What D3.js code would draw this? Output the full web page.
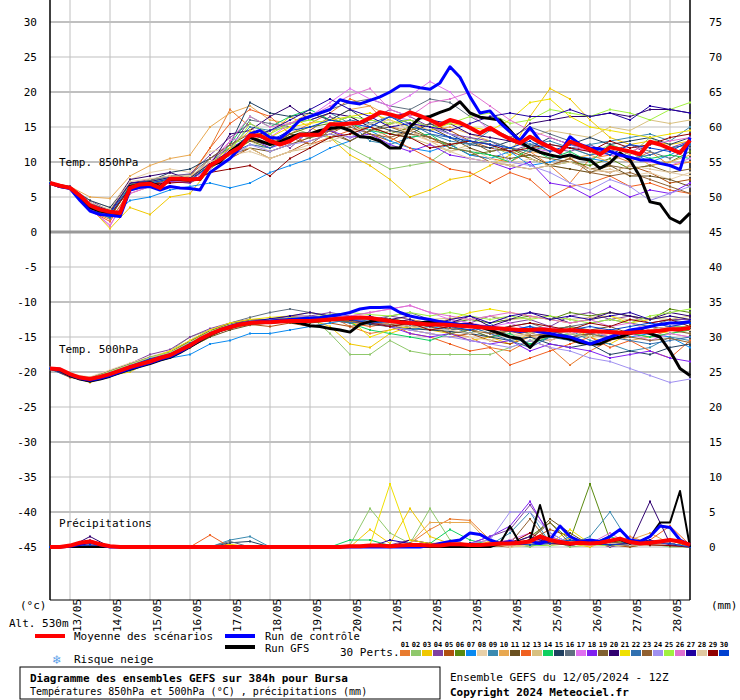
<!DOCTYPE html>
<html><head><meta charset="utf-8">
<script src="https://cdn.jsdelivr.net/npm/d3@7/dist/d3.min.js"></script>
<style>
  body { margin:0; background:#fff; }
  svg text { font-family:"DejaVu Sans Mono", monospace; font-size:11px; fill:#000; }
</style>
</head><body>
<svg width="740" height="700"></svg>
<script>
// dates shown on the x axis (00Z of each day)
var days = ["13/05","14/05","15/05","16/05","17/05","18/05","19/05","20/05","21/05","22/05","23/05","24/05","25/05","26/05","27/05","28/05"];
var leftTicks = [30,25,20,15,10,5,0,-5,-10,-15,-20,-25,-30,-35,-40,-45];

// 6-hourly series (65 steps from 12/05 12Z)
var mean850 = [7.0,6.6,6.3,5.2,3.8,3.2,2.9,2.7,6.3,6.8,6.9,6.3,7.6,7.6,7.5,7.6,9.5,10.3,11.3,12.1,13.8,13.8,13.0,12.5,13.0,13.9,13.9,13.9,15.4,15.4,15.5,15.6,16.3,17.1,16.8,16.4,17.1,16.6,16.0,15.3,16.0,15.6,14.9,14.1,14.9,14.0,13.3,12.7,13.6,12.8,12.1,11.4,12.9,12.4,11.8,11.1,12.1,11.8,11.5,11.1,12.9,12.5,11.9,11.3,13.1];
var ctrl850 = [7.0,6.5,6.2,4.5,3.0,2.5,2.4,2.2,6.0,6.4,6.5,6.0,6.5,6.3,6.2,6.0,8.5,9.5,10.5,12.0,14.0,14.5,13.5,13.4,14.5,16.0,16.5,17.0,17.5,18.9,18.5,18.3,18.8,19.3,20.0,20.9,20.9,20.6,20.4,21.3,23.6,22.1,19.3,17.0,17.3,15.6,14.3,13.1,14.9,13.0,12.1,11.3,13.6,12.5,12.0,11.9,11.5,11.0,10.7,10.3,10.3,9.8,9.5,8.9,13.5];
var gfs850 = [7.0,6.5,6.3,5.0,3.5,3.0,2.8,2.5,6.5,6.8,7.0,6.5,7.5,7.5,7.5,7.5,9.5,10.0,11.5,12.5,13.5,13.0,12.5,12.9,13.5,14.0,14.0,14.5,14.8,15.0,14.5,13.6,13.5,13.0,12.0,12.0,15.0,16.3,16.5,17.1,17.6,18.6,17.0,16.4,16.2,16.0,14.5,12.9,12.0,11.4,11.0,10.7,11.0,10.5,10.3,9.1,9.9,11.3,10.3,7.9,4.3,4.0,2.0,1.3,2.7];
var mean500 = [-19.5,-19.6,-20.3,-20.8,-21.0,-20.7,-20.3,-19.8,-19.3,-18.9,-18.5,-18.0,-17.6,-16.9,-16.2,-15.3,-14.6,-14.0,-13.6,-13.2,-13.0,-12.9,-12.9,-12.8,-12.7,-12.7,-12.7,-12.6,-12.5,-12.4,-12.3,-12.2,-12.3,-12.5,-12.7,-12.9,-13.0,-13.1,-13.2,-13.2,-13.3,-13.4,-13.5,-13.6,-13.7,-13.8,-13.9,-14.0,-14.0,-13.9,-14.0,-14.1,-14.0,-14.1,-14.2,-14.2,-14.3,-14.4,-14.4,-14.3,-14.2,-14.1,-13.9,-13.9,-13.7];
var ctrl500 = [-19.5,-19.6,-20.4,-20.9,-21.2,-20.9,-20.5,-20.0,-19.5,-19.1,-18.7,-18.2,-17.8,-17.1,-16.3,-15.4,-14.6,-14.0,-13.5,-13.1,-12.9,-12.8,-12.7,-12.6,-12.5,-12.4,-12.3,-12.2,-12.0,-11.8,-11.5,-11.0,-10.8,-10.8,-10.7,-11.5,-12.0,-12.3,-12.5,-12.8,-13.0,-13.2,-13.3,-13.5,-13.6,-13.8,-14.0,-14.2,-14.0,-14.3,-14.5,-14.8,-15.0,-15.5,-16.0,-15.5,-15.0,-14.5,-14.0,-13.8,-13.5,-13.2,-13.0,-13.0,-12.8];
var gfs500 = [-19.5,-19.7,-20.5,-21.0,-21.3,-21.0,-20.6,-20.1,-19.6,-19.2,-18.8,-18.3,-17.9,-17.2,-16.4,-15.5,-14.7,-14.1,-13.6,-13.2,-13.0,-12.9,-12.9,-12.8,-12.8,-13.0,-13.4,-13.5,-13.8,-14.0,-14.3,-13.2,-12.8,-12.5,-12.6,-12.8,-13.0,-13.0,-12.8,-13.0,-13.1,-13.2,-13.3,-13.5,-14.0,-14.5,-15.0,-15.2,-16.5,-15.0,-14.8,-15.0,-15.3,-15.8,-16.0,-16.0,-15.3,-15.0,-14.5,-14.0,-14.5,-15.0,-17.0,-19.5,-20.5];
var meanPr = [0,0,0.2,0.6,0.8,0.4,0.1,0, 0,0,0,0,0,0,0,0, 0,0,0,0,0,0,0,0, 0,0,0,0,0,0,0.1,0.1, 0.2,0.2,0.1,0.2,0.3,0.3,0.2,0.2, 0.4,0.4,0.3,0.3,0.4,0.5,0.5,0.6, 0.8,1.5,1.0,0.7,0.5,0.6,0.5,0.6, 0.9,1.2,0.7,0.5,0.6,0.8,1.0,0.8, 0.3];
var ctrlPr = [0,0,0.1,0.4,0.8,0.3,0,0, 0,0,0,0,0,0,0,0, 0,0,0,0,0,0,0,0, 0,0,0,0,0,0,0,0, 0,0,0,0,0,0,0.2,0.5, 0.8,1.0,2.0,1.8,1.0,0.5,0.8,0.5, 0.8,0.5,1.0,3.0,1.5,0.8,1.0,0.8, 1.5,2.5,1.0,0.8,1.5,3.0,2.8,1.0, 0.3];
var gfsPr = [0,0,0,0,0,0,0,0, 0,0,0,0,0,0,0,0, 0,0,0,0,0,0,0,0, 0,0,0,0,0,0,0,0, 0,0,0,0,0,0,0,0, 0,0,0,0,0,0.5,3.0,0.5, 1.0,6.0,1.0,0.8,0.5,0.5,1.0,0.5, 0.8,1.0,0.5,0.8,1.5,3.5,3.5,8.0, 0];

// 12-hourly perturbation series (33 steps)
var pertColors = ["#e87b2f","#8fc86b","#f0c800","#8040a0","#b05010","#5a8a10","#0a8af0","#e8d0a8","#3a8ab0","#e8a850","#6a5020","#f06020","#d8c080","#10d060","#204060","#607080","#e070f0","#8020f0","#806030","#300070","#f0e000","#3070b0","#906030","#a090f0","#a0f040","#e070d0","#2000a0","#e0c8a0","#900000","#0040d0"];
var pert850 = [
[7.1,6.4,3.0,1.8,5.5,6.5,7.5,8.0,12.0,17.5,15.0,12.5,14.0,15.5,17.0,19.0,18.0,15.0,14.5,13.0,12.5,11.0,10.5,10.0,11.5,9.5,7.0,10.5,11.0,10.0,11.5,9.5,10.0],
[7.0,6.2,4.0,3.2,6.8,7.2,8.0,7.8,10.0,12.5,13.5,14.5,15.0,14.0,13.5,12.0,10.5,9.0,9.5,10.0,12.0,13.5,12.5,11.0,12.5,11.5,12.0,11.0,12.5,11.0,13.5,12.0,12.5],
[7.0,6.3,3.5,0.5,3.5,2.5,5.0,5.5,9.0,11.0,13.0,14.0,16.5,15.0,13.5,11.0,9.5,7.5,5.0,6.0,7.5,8.0,9.5,11.0,16.5,20.5,19.0,16.0,13.5,12.5,13.0,12.5,13.0],
[6.9,6.5,4.5,3.0,7.0,7.5,8.0,8.3,11.0,13.5,15.5,14.0,12.0,14.5,16.5,15.0,16.0,17.5,16.5,15.0,14.0,13.5,13.0,11.5,12.5,12.0,11.5,12.5,11.0,12.5,11.0,12.0,13.0],
[7.0,6.4,3.8,2.5,6.0,6.5,7.2,7.0,8.5,10.5,12.0,10.5,11.5,13.0,14.0,15.5,14.0,13.0,14.5,15.5,14.5,13.0,12.0,11.5,10.5,9.5,10.5,9.0,8.5,9.5,8.5,7.0,7.5],
[7.1,6.3,3.2,2.0,6.5,7.0,7.5,7.0,9.0,11.5,13.0,12.0,14.0,15.0,15.5,16.5,15.0,14.0,15.0,13.5,12.5,11.0,11.5,12.0,10.5,9.5,10.0,9.5,10.5,9.0,9.5,10.0,11.5],
[6.9,6.2,3.5,2.0,4.5,5.0,6.0,6.5,7.0,6.3,7.0,8.5,9.5,10.5,12.0,13.0,14.5,13.0,12.0,11.5,12.5,11.0,10.5,11.5,9.5,10.0,11.0,10.5,10.0,11.5,10.0,11.0,12.5],
[7.0,6.4,4.5,3.5,7.5,8.5,9.0,8.5,11.5,12.0,13.0,11.5,12.5,13.5,14.5,15.0,16.0,15.5,14.0,13.0,11.5,12.0,10.5,9.5,10.5,9.5,9.0,8.5,9.0,8.0,8.5,7.5,8.5],
[7.0,6.3,3.6,2.5,6.5,7.0,7.8,7.5,10.0,12.0,15.0,14.5,15.5,16.0,17.0,15.5,13.0,12.5,13.5,14.0,13.0,12.5,14.5,13.5,12.5,13.0,12.0,12.5,13.0,13.5,14.0,13.0,15.0],
[7.1,6.5,5.0,4.8,8.0,9.5,10.5,11.0,15.0,17.0,18.0,16.0,15.5,17.0,16.0,17.5,18.0,16.5,15.5,14.5,15.0,14.0,13.0,12.0,11.5,11.0,10.5,11.0,10.0,11.5,9.5,10.0,11.0],
[7.0,6.2,3.2,2.2,6.3,6.8,7.6,7.3,9.5,11.0,12.0,11.5,12.5,13.5,14.5,13.0,14.5,15.5,16.0,15.0,13.5,12.0,11.0,10.5,11.0,9.5,9.0,8.5,9.5,8.0,8.0,7.5,6.5],
[7.0,6.3,3.0,1.5,6.0,6.8,7.5,7.8,12.0,15.5,17.5,16.5,14.0,12.5,13.5,14.5,15.0,13.5,12.0,10.5,9.0,8.5,7.0,8.5,7.5,5.0,6.5,7.0,8.0,6.5,7.0,6.0,5.5],
[7.0,6.4,4.0,3.0,6.5,7.5,8.0,7.8,10.0,11.5,12.0,10.5,11.5,12.0,13.5,14.0,13.5,14.5,13.5,12.5,11.5,12.5,13.0,12.0,13.5,14.5,14.0,13.5,15.0,14.5,16.0,15.5,16.0],
[7.1,6.2,4.0,2.8,6.8,7.0,7.5,7.6,9.5,12.5,16.5,15.0,16.5,17.5,16.0,15.5,14.5,14.0,13.5,14.0,12.0,11.5,11.0,10.0,12.0,10.5,11.5,10.0,12.5,11.5,10.5,11.0,10.5],
[7.0,6.3,4.5,3.5,7.0,7.3,8.5,9.0,10.5,12.5,18.5,17.0,16.5,17.0,16.0,17.5,15.5,14.5,14.0,15.5,14.0,12.5,12.0,13.0,12.0,13.5,12.5,13.5,12.5,13.0,13.5,12.5,13.5],
[7.0,6.4,3.9,2.9,6.7,7.4,8.0,8.2,10.5,12.0,16.0,15.5,15.0,16.5,17.5,18.5,19.0,18.0,17.5,19.0,18.5,16.5,15.0,13.5,15.0,14.0,13.0,12.0,11.5,12.5,11.5,10.5,12.0],
[7.0,6.3,3.3,1.0,5.5,6.5,7.0,7.4,10.0,13.0,14.0,13.5,15.5,16.5,18.5,20.5,19.0,18.0,19.5,21.5,20.0,17.0,14.5,13.5,12.0,11.5,12.0,11.5,11.0,10.5,10.0,9.5,10.5],
[7.1,6.4,3.5,2.5,6.3,6.8,7.2,7.0,9.0,12.0,13.5,12.0,13.0,14.0,14.5,13.5,14.0,12.5,11.5,12.5,11.0,10.5,10.0,9.0,10.0,7.0,6.5,5.0,6.5,5.0,6.0,5.5,7.0],
[7.0,6.2,3.7,2.7,6.2,6.8,7.5,7.2,9.5,11.5,13.0,12.5,14.0,13.5,14.0,13.0,14.5,15.0,14.0,13.5,12.5,13.0,11.5,12.0,11.0,10.5,10.0,9.0,9.5,9.0,9.5,8.5,9.0],
[7.0,6.5,4.2,3.0,7.5,8.0,8.5,7.5,9.5,14.0,14.5,16.5,18.0,16.0,17.0,16.5,15.0,16.5,17.0,16.0,15.5,14.0,13.5,13.0,15.5,16.0,16.5,16.5,17.0,16.5,17.5,17.5,17.0],
[7.0,6.3,3.8,2.6,6.6,7.2,7.7,7.6,9.8,12.0,14.5,13.5,15.0,15.5,16.0,16.5,17.0,16.0,15.0,14.5,15.5,15.0,14.5,16.0,18.5,19.0,16.5,15.0,14.5,14.0,13.5,14.0,14.5],
[7.0,6.4,3.4,2.3,6.4,6.9,7.6,7.3,9.6,11.2,12.5,12.0,13.5,14.0,15.0,16.0,15.5,16.5,15.5,14.0,13.5,12.5,13.0,12.0,11.5,12.5,12.0,11.0,11.5,10.5,11.0,12.0,12.5],
[7.0,6.3,3.9,2.8,7.0,7.0,7.8,7.6,10.5,12.5,14.0,13.0,13.5,12.5,14.5,15.0,14.0,13.5,14.5,13.5,12.0,11.5,10.0,9.5,9.0,9.5,10.5,8.5,8.0,8.5,7.5,6.5,5.5],
[7.0,6.3,3.6,2.6,6.5,7.0,7.6,7.4,9.3,10.5,12.5,11.5,12.5,13.0,14.0,13.5,15.0,16.5,16.0,15.0,14.0,13.0,12.5,10.0,9.5,8.5,7.0,6.0,7.5,6.5,4.5,5.5,6.5],
[7.1,6.4,3.7,2.9,6.6,7.1,7.7,7.7,9.7,11.5,15.5,14.0,15.5,16.0,15.5,16.5,16.0,15.5,16.0,15.0,15.5,16.5,17.0,15.5,16.0,17.5,17.0,16.5,17.5,17.0,16.0,17.5,18.5],
[7.0,6.3,3.5,0.8,6.0,6.5,7.4,7.5,9.0,13.0,16.5,15.0,15.5,16.5,18.0,19.5,20.5,17.5,16.5,18.5,19.0,20.0,18.0,16.0,14.5,13.5,12.5,11.5,12.0,11.5,12.5,13.0,13.5],
[7.0,6.4,4.0,2.8,7.0,7.2,7.8,7.7,9.8,11.5,13.5,14.5,16.0,17.5,19.0,17.5,16.5,15.0,15.5,15.0,14.5,15.5,16.5,17.0,16.5,16.5,17.5,16.5,17.0,16.0,18.0,17.5,17.0],
[7.0,6.3,4.2,3.2,7.2,7.6,8.0,8.0,10.0,11.0,11.5,10.5,11.5,12.5,13.0,14.0,15.5,16.0,14.5,13.0,11.5,10.5,10.0,9.5,9.0,9.5,10.0,9.0,8.5,9.5,9.0,8.5,8.0],
[7.0,6.3,3.6,2.4,6.3,6.9,7.0,7.2,8.5,9.0,9.5,8.0,10.5,12.0,13.5,14.0,15.0,14.0,13.5,12.0,12.5,13.0,12.5,11.5,12.0,12.5,12.0,11.5,13.0,12.0,12.5,13.5,14.0],
[7.0,6.4,3.7,2.7,6.5,7.0,7.6,7.4,9.5,11.5,14.0,13.0,14.5,15.0,16.0,15.5,15.0,16.5,15.0,14.5,13.5,13.0,12.5,12.0,13.0,11.5,12.5,12.0,11.0,12.5,12.0,11.5,13.0]
];
var pert500 = [
[-19.5,-20.8,-21.2,-20.3,-19.5,-18.3,-17.2,-15.5,-14.0,-13.0,-12.5,-12.8,-12.3,-13.0,-12.0,-13.5,-14.5,-14.0,-13.0,-13.5,-14.5,-15.0,-16.5,-17.0,-15.5,-16.5,-19.0,-17.0,-15.5,-14.5,-15.0,-14.0,-13.5],
[-19.6,-20.6,-21.0,-20.0,-19.0,-18.0,-17.0,-15.0,-14.0,-13.5,-13.0,-13.0,-12.5,-12.0,-14.5,-17.5,-17.5,-15.5,-17.0,-17.5,-17.5,-17.5,-17.5,-16.5,-15.5,-15.0,-14.5,-15.0,-14.0,-14.5,-14.0,-13.5,-13.5],
[-19.5,-20.5,-21.5,-20.5,-20.0,-18.5,-17.5,-16.5,-15.0,-13.5,-12.5,-12.5,-12.0,-12.5,-13.5,-16.0,-16.5,-14.5,-13.5,-14.0,-14.5,-15.5,-15.0,-16.0,-14.5,-14.0,-13.5,-15.0,-16.0,-14.5,-14.0,-14.5,-14.0],
[-19.4,-20.4,-20.8,-19.8,-18.8,-17.5,-16.8,-15.0,-13.8,-13.0,-12.5,-12.5,-12.0,-12.0,-11.5,-12.0,-12.5,-12.0,-12.5,-13.0,-12.5,-13.0,-12.0,-13.0,-12.5,-13.5,-12.0,-11.5,-12.5,-12.0,-13.0,-12.5,-12.5],
[-19.5,-20.6,-21.3,-20.2,-19.3,-18.4,-17.6,-16.2,-14.5,-13.8,-13.2,-13.5,-13.0,-13.5,-13.0,-13.5,-13.0,-13.5,-14.0,-14.5,-15.0,-14.5,-15.5,-16.0,-15.0,-15.5,-14.5,-15.0,-14.0,-14.5,-14.0,-13.5,-14.0],
[-19.5,-20.5,-21.0,-20.0,-19.0,-18.0,-17.3,-15.8,-14.3,-13.3,-12.8,-12.5,-12.3,-12.5,-12.0,-12.5,-13.0,-12.5,-13.0,-13.5,-13.0,-12.5,-13.0,-12.5,-12.0,-12.5,-11.5,-12.0,-11.5,-12.0,-12.5,-11.0,-11.5],
[-19.6,-20.7,-21.1,-20.6,-19.8,-18.8,-18.0,-17.5,-16.0,-15.5,-14.5,-14.5,-14.0,-13.5,-13.0,-12.5,-12.5,-13.5,-14.0,-13.5,-14.0,-13.5,-14.5,-14.0,-13.5,-14.0,-15.0,-14.5,-14.0,-15.0,-14.5,-15.0,-16.5],
[-19.4,-20.3,-20.7,-19.7,-18.7,-17.8,-17.0,-15.5,-14.0,-13.0,-12.6,-12.4,-12.6,-12.2,-12.4,-12.8,-13.5,-13.0,-14.0,-14.5,-15.0,-15.0,-15.5,-14.5,-15.0,-15.5,-14.5,-14.0,-15.0,-14.0,-14.5,-14.0,-14.5],
[-19.5,-20.5,-21.0,-20.2,-19.2,-18.2,-17.5,-16.0,-14.6,-13.6,-13.0,-12.8,-12.6,-12.8,-12.5,-12.5,-13.0,-13.5,-13.0,-14.0,-13.5,-14.5,-13.0,-15.0,-16.0,-15.0,-14.0,-15.5,-16.0,-17.0,-16.5,-15.0,-15.5],
[-19.5,-20.4,-20.9,-19.9,-19.0,-18.0,-17.4,-16.0,-14.4,-13.2,-12.8,-12.6,-12.4,-12.6,-12.3,-12.2,-12.5,-13.0,-12.5,-13.0,-13.5,-14.0,-14.5,-14.0,-15.0,-14.5,-14.0,-15.0,-14.5,-15.5,-15.0,-14.5,-15.0],
[-19.5,-20.7,-21.4,-20.4,-19.4,-18.5,-17.7,-16.5,-15.0,-14.0,-13.3,-13.0,-12.8,-13.0,-12.7,-12.5,-13.0,-12.8,-13.2,-13.5,-13.0,-13.5,-14.0,-13.8,-14.5,-14.0,-13.5,-14.0,-13.5,-14.5,-14.0,-13.5,-14.0],
[-19.5,-20.6,-21.2,-20.3,-19.3,-18.3,-17.6,-16.3,-14.7,-13.7,-13.2,-13.0,-12.5,-12.8,-12.6,-13.0,-13.5,-13.0,-14.5,-15.0,-16.0,-17.0,-16.5,-19.0,-18.0,-17.0,-16.0,-15.0,-16.5,-15.5,-17.0,-18.0,-15.5],
[-19.5,-20.4,-20.8,-19.9,-18.9,-18.0,-17.3,-15.7,-14.2,-13.2,-12.7,-12.5,-12.3,-12.2,-12.0,-12.3,-12.5,-12.8,-12.0,-12.5,-12.3,-12.5,-12.0,-12.5,-12.3,-12.0,-12.5,-12.2,-12.0,-12.6,-12.3,-12.5,-12.0],
[-19.5,-20.5,-21.0,-20.0,-19.1,-18.1,-17.4,-15.9,-14.5,-13.4,-13.0,-12.8,-12.6,-12.5,-12.3,-13.0,-14.0,-14.5,-15.0,-15.5,-14.5,-14.0,-15.0,-14.5,-16.0,-15.0,-14.5,-15.0,-14.0,-14.5,-15.0,-14.5,-14.0],
[-19.5,-20.6,-21.1,-20.2,-19.2,-18.2,-17.5,-16.1,-14.6,-13.5,-13.0,-12.8,-12.7,-12.6,-12.4,-12.8,-13.2,-13.5,-13.8,-14.0,-14.2,-14.5,-15.0,-15.5,-15.0,-16.0,-16.5,-16.0,-17.5,-17.0,-17.5,-16.5,-16.0],
[-19.5,-20.5,-21.0,-20.1,-19.0,-18.0,-17.2,-15.6,-14.1,-13.0,-12.2,-11.5,-11.0,-11.5,-12.0,-12.5,-13.0,-12.0,-11.5,-12.5,-13.5,-13.0,-14.0,-13.5,-13.0,-14.0,-13.5,-13.0,-12.5,-13.0,-13.5,-12.5,-13.0],
[-19.5,-20.6,-21.2,-20.2,-19.2,-18.2,-17.5,-16.0,-14.5,-13.5,-12.8,-12.7,-12.4,-12.3,-12.2,-12.0,-11.5,-11.0,-10.5,-11.5,-12.5,-13.0,-13.5,-13.0,-14.0,-13.5,-14.5,-14.0,-15.0,-14.5,-15.5,-14.5,-15.0],
[-19.5,-20.5,-21.0,-20.1,-19.1,-18.1,-17.4,-15.9,-14.4,-13.4,-12.9,-12.7,-12.5,-12.6,-12.4,-12.5,-12.8,-13.5,-14.5,-15.0,-14.5,-15.5,-16.0,-15.5,-17.0,-16.0,-16.5,-17.0,-18.0,-17.5,-17.0,-18.0,-18.5],
[-19.5,-20.6,-21.1,-20.2,-19.2,-18.3,-17.5,-16.1,-14.6,-13.6,-13.1,-12.9,-12.7,-12.5,-12.6,-12.8,-13.0,-13.5,-13.0,-13.5,-14.5,-14.0,-15.0,-14.0,-14.5,-14.0,-15.0,-14.5,-14.0,-14.5,-13.5,-14.0,-14.5],
[-19.5,-20.4,-20.9,-19.9,-18.9,-17.9,-17.2,-15.6,-14.1,-13.1,-12.6,-12.5,-12.3,-12.4,-12.2,-12.0,-12.2,-12.5,-12.0,-12.5,-13.0,-12.0,-13.5,-12.5,-11.5,-12.0,-13.0,-12.5,-11.5,-12.0,-12.5,-11.5,-12.0],
[-19.5,-20.5,-21.0,-20.0,-19.0,-18.0,-17.0,-15.5,-14.0,-13.0,-12.5,-12.2,-12.0,-11.5,-12.0,-12.5,-15.0,-14.0,-13.5,-13.0,-12.5,-11.5,-11.0,-11.5,-12.0,-12.5,-13.0,-12.5,-12.0,-13.0,-12.5,-12.0,-12.5],
[-19.5,-20.6,-21.1,-20.3,-19.3,-18.3,-17.6,-16.2,-14.7,-13.6,-13.0,-12.8,-12.6,-12.8,-12.6,-13.0,-12.5,-13.0,-13.5,-13.0,-14.0,-13.5,-14.5,-15.5,-16.5,-15.0,-15.5,-14.5,-15.0,-15.5,-16.0,-15.5,-15.0],
[-19.5,-20.5,-21.0,-20.1,-19.1,-18.1,-17.4,-15.9,-14.4,-13.4,-12.9,-12.7,-12.5,-12.6,-12.4,-12.7,-13.0,-13.2,-13.5,-13.3,-13.8,-14.0,-14.5,-14.2,-14.8,-14.5,-15.0,-14.6,-15.2,-15.0,-15.5,-15.2,-15.8],
[-19.5,-20.6,-21.1,-20.2,-19.2,-18.2,-17.5,-16.0,-14.5,-13.5,-13.0,-12.8,-12.6,-12.5,-12.3,-12.6,-13.0,-13.5,-14.0,-14.5,-15.0,-15.5,-16.0,-16.5,-15.5,-16.5,-17.0,-18.0,-18.5,-19.5,-20.5,-21.5,-21.0],
[-19.5,-20.4,-20.9,-19.9,-18.9,-17.9,-17.2,-15.7,-14.2,-13.2,-12.7,-12.5,-12.3,-12.2,-11.8,-11.5,-11.8,-12.0,-11.5,-12.0,-11.5,-12.0,-12.5,-12.0,-12.5,-12.0,-12.5,-13.0,-12.5,-13.0,-12.0,-11.5,-11.0],
[-19.5,-20.5,-21.0,-20.1,-19.1,-18.1,-17.4,-15.9,-14.4,-13.4,-12.9,-12.7,-12.5,-12.4,-12.2,-12.0,-11.5,-11.0,-10.5,-11.5,-12.0,-12.5,-12.0,-11.5,-12.0,-12.5,-13.0,-12.5,-13.5,-13.0,-14.0,-13.5,-13.0],
[-19.5,-20.6,-21.2,-20.2,-19.2,-18.2,-17.5,-16.0,-14.5,-13.5,-12.8,-12.4,-12.0,-11.5,-12.0,-12.5,-12.0,-13.0,-12.5,-13.5,-12.5,-12.0,-13.0,-12.0,-11.5,-12.5,-12.0,-12.5,-12.0,-11.5,-12.5,-12.0,-12.5],
[-19.5,-20.5,-21.0,-20.0,-19.0,-18.0,-17.3,-15.8,-14.3,-13.3,-12.8,-12.6,-12.4,-12.5,-12.3,-12.6,-12.9,-13.0,-13.5,-13.8,-14.0,-14.5,-14.0,-15.0,-14.5,-14.0,-14.5,-15.0,-14.0,-14.5,-14.0,-13.5,-14.0],
[-19.5,-20.6,-21.1,-20.2,-19.2,-18.2,-17.5,-16.0,-14.5,-13.5,-13.0,-12.8,-12.6,-12.5,-12.4,-12.6,-13.0,-13.5,-13.0,-14.0,-13.5,-13.0,-14.0,-13.5,-13.0,-13.5,-14.0,-13.0,-13.5,-12.5,-13.0,-12.5,-13.5],
[-19.5,-20.5,-21.0,-20.1,-19.1,-18.1,-17.4,-15.9,-14.4,-13.4,-12.9,-12.7,-12.5,-12.6,-12.4,-12.5,-13.0,-12.8,-13.2,-13.0,-13.5,-14.0,-13.5,-14.0,-13.5,-14.5,-14.0,-13.5,-14.0,-13.5,-13.0,-13.5,-13.0]
];
var pertPr = [
[0,0,0.3,0,0,0,0,0,0,0,0,0,0,0,0,0,0,0,0.5,2.5,4.0,3.8,1.0,0,0.5,1.2,0.3,0.8,0,1.5,0.5,0.2,0],
[0,0,0.5,0,0,0,0,0,0,0,0,0,0,0,0,0.3,5.5,2.0,0.5,5.5,1.0,0.3,0,0.5,0,1.0,0,0.3,0.8,0,0.5,0,0],
[0,0,0.8,0,0,0,0,0,0,0.4,0,0,0,0,0,0,2.5,0.5,5.5,1.5,0.5,0,0.8,0,0.3,1.5,0.5,0,1.0,0.5,0.2,1.0,0],
[0,0,1.0,0,0,0,0,0,0,0,0,0,0,0,0,0,0,0.3,1.0,0.5,0,0.5,1.5,2.5,6.0,2.0,0.5,1.0,0,0.5,0.8,0.5,0],
[0,0,0.2,0,0,0,0,0,0,0,0,0,0,0,0,0,0,0,0,0,0.3,0.5,0.2,0,1.0,2.5,1.5,0.5,0.3,0,0.5,1.0,0],
[0,0,0.3,0,0,0,0,0,0,0,0,0,0,0,0,0,0,0,0,0.5,0,0,0.3,0.5,1.5,3.5,1.0,9.0,1.0,0.5,0.3,0.5,0],
[0,0,0.2,0,0,0,0,0,0,0,0,0,0,0,0,0,0,0,0,0,0,0.5,0.3,1.0,0.5,0.2,1.5,0.3,0.5,1.0,0.2,0.5,0],
[0,0,0.5,0,0,0,0,0,0,0,0,0,0,0,0,0,0,0,0,0.5,0.8,0.2,0.5,0,0.3,1.0,0.5,0.5,0.3,0.2,0.5,0.3,0],
[0,0,0.3,0,0,0,0,0,0,1.0,1.5,0,0,0,0,0,0,0,0,0,0.5,0,0.3,2.0,5.0,0.5,0.3,1.5,5.0,0.5,1.0,0.3,0],
[0,0,0.2,0,0,0,0,0,0,0,0,0,0,0,0,0,0,0,0.5,3.5,3.5,3.5,0.5,0.8,0.3,0.5,1.2,0.3,0.5,1.0,2.0,0.5,0],
[0,0,0.4,0,0,0,0,0,0,0,0,0,0,0,0,0,0,0,0,0,0.3,0.5,0,0.5,1.0,4.0,2.0,0.3,0.5,0.2,0.3,0.5,0],
[0,0,0.3,0,0,0,0,0,1.7,0,0,0,0,0,0,0,0,0,0,0,0.3,0.5,1.0,0.3,1.5,0.5,0.3,0.5,0.3,0.5,1.0,3.0,0.3],
[0,0,0.5,0,0,0,0,0,0,0,0,0,0,0,0,0,0,0,0,0,0,0.3,0.5,0.2,0.5,0.3,0.8,0.5,0.2,0.5,0.3,0.2,0],
[0,0,0.2,0,0,0,0,0,0,0,0,0,0,0,0,1.0,1.0,0.2,0,0.5,2.5,1.0,0.3,0.5,0.3,0.2,1.0,0.5,1.5,0.5,0.3,0.5,0],
[0,0,0.3,0,0,0,0,0,0,0.6,0.8,0,0,0,0,0,0,0,0,0,0,0.5,0.3,1.0,0.5,1.5,0.3,0.5,0.8,0.3,0.5,0.2,0],
[0,0,0.4,0,0,0,0,0,0,0.8,0,0,0,0,0,0,0,0,0,0,0,0.3,0.5,0.3,0.8,0.5,0.3,0.5,0.3,0.5,0.3,0.5,0],
[0,0,0.5,0,0,0,0,0,0,0,0,0,0,0,0,0,0,0,0,0,0.5,0.3,0.5,1.0,2.0,0.5,0.3,0.8,0.5,0.3,0.5,0.3,0],
[0,0,0.3,0,0,0,0,0,0,0,0,0,0,0,0,0,0,0,0,0,0,0.5,1.5,3.0,6.5,1.5,0.5,1.0,0.3,0.5,0.3,0.5,0],
[0,0,0.2,0,0,0,0,0,0,0,0,0,0,0,0,0,0,0,0,0,0.3,0,0.5,0.3,1.0,3.5,0.5,0.3,0.8,0.5,0.3,0.2,0],
[0,0,1.5,0,0,0,0,0,0,0,0,0,0,0,0,0,0,0,1.0,0.5,0.2,0,0.5,0.3,0.5,1.0,0.5,0.3,0.5,0.3,6.5,0.5,0],
[0,0,0.3,0,0,0,0,0,0,0,0,0,0,0,0,0,0.3,9.0,1.0,0.5,0.3,0,0.2,0.5,0.3,0.5,2.5,0.5,1.0,0.3,0.5,0.3,0],
[0,0,0.2,0,0,0,0,0,0,0,0,0,0,0,0,0,0,0,0,0,0,0.3,0.5,0.3,0.5,0.8,0.3,0.5,0.3,0.8,0.5,0.3,0],
[0,0,0.3,0,0,0,0,0,0,0,0,0,0,0,0,0,0,0,0,0,0,0,0.3,0.5,4.0,0.5,0.3,0.5,0.8,0.3,0.5,0.3,0],
[0,0,0.4,0,0,0,0,0,0,0,0,0,0,0,0,0,0,0,0,0.2,0,0.5,1.0,5.0,5.0,2.0,0.5,0.8,0.5,0.3,0.5,0.2,0],
[0,0,0.2,0,0,0,0,0,0,0,0,0,0,0,0,0,0,0,0,0,0,0.3,0.2,0.5,0.3,0.2,0.5,0.3,0.2,0.5,0.3,0.2,0],
[0,0,0.3,0,0,0,0,0,0,0,0,0,0,0,0,0,0,0,0,0,0.5,0.3,0.5,1.0,0.5,1.5,0.3,0.5,2.0,0.3,0.5,0.3,0],
[0,0,0.5,0,0,0,0,0,0,0,0,0,0,0,0,0,0,1.0,0.5,0.3,0,0.5,0.3,0.5,1.5,0.5,0.3,0.5,0.3,0.5,1.0,0.3,0],
[0,0,0.3,0,0,0,0,0,0,0,0,0,0,0,0,0,0,0,0,0,0,0.3,0.5,0.2,0.5,0.3,0.5,0.2,0.5,0.3,0.2,0.5,0],
[0,0,0.2,0,0,0,0,0,0,0,0,0,0,0,0,0,0,0,0,0,0,0.5,0.3,0.5,2.0,0.5,0.3,0.5,0.3,0.5,0.3,0.2,0],
[0,0,0.3,0,0,0,0,0,0,0,0,0,0,0,0,0,0,0,0,0,0.3,0.5,0.3,0.5,0.3,0.5,1.0,0.5,0.3,0.5,0.8,0.5,0]
];

var svg = d3.select("svg");
var x = d3.scaleLinear().domain([0,384]).range([50,690]);
var yT = d3.scaleLinear().domain([-45,30]).range([547,22]);   // temperatures
var yP = d3.scaleLinear().domain([0,10]).range([547,477]);    // precipitation mm

//begin: grid
var grid = svg.append("g");
days.forEach(function(d,i){
  var xx = x(12+24*i);
  grid.append("line").attr("x1",xx).attr("x2",xx).attr("y1",0).attr("y2",600)
    .attr("stroke","#c0c0c0");
});
leftTicks.forEach(function(t){
  var thick = (t%10===0);
  grid.append("line").attr("x1",50).attr("x2",690).attr("y1",yT(t)).attr("y2",yT(t))
    .attr("stroke", t===0 ? "#999" : "#c0c0c0").attr("stroke-width", t===0 ? 3 : (thick?2:1.2));
  svg.append("text").attr("x",37).attr("y",yT(t)+4).attr("text-anchor","end").text(t);
  svg.append("text").attr("x",709).attr("y",yT(t)+4).text(t+45);
});
svg.append("line").attr("x1",50).attr("x2",50).attr("y1",0).attr("y2",600).attr("stroke","#000").attr("stroke-width",1.5);
svg.append("line").attr("x1",690).attr("x2",690).attr("y1",0).attr("y2",600).attr("stroke","#000").attr("stroke-width",1.5);
svg.append("line").attr("x1",50).attr("x2",690).attr("y1",600).attr("y2",600).attr("stroke","#000");
//end: grid

var line6 = function(ys){ return d3.line().x(function(d,i){ return x(i*6); }).y(ys); };
var line12 = function(ys){ return d3.line().x(function(d,i){ return x(i*12); }).y(ys); };

function drawPerts(series, ys){
  var g = svg.append("g");
  series.forEach(function(s,k){
    g.append("path").attr("d", line12(ys)(s)).attr("fill","none")
      .attr("stroke",pertColors[k]).attr("stroke-width",1);
    g.selectAll(null).data(s).enter().append("rect")
      .attr("x",function(d,i){ return x(i*12)-1; }).attr("y",function(d){ return ys(d)-1; })
      .attr("width",2).attr("height",2).attr("fill",pertColors[k]);
  });
}
function drawMain(s, ys, col, w){
  svg.append("path").attr("d", line6(ys)(s)).attr("fill","none")
    .attr("stroke",col).attr("stroke-width",w).attr("stroke-linejoin","round");
}
var fT = function(d){ return yT(d); }, fP = function(d){ return yP(d); };
drawPerts(pert850, fT); drawPerts(pert500, fT); drawPerts(pertPr, fP);
drawMain(gfs850, fT, "#000", 3); drawMain(gfs500, fT, "#000", 3); drawMain(gfsPr, fP, "#000", 2);
drawMain(ctrl850, fT, "#0000ff", 3); drawMain(ctrl500, fT, "#0000ff", 3); drawMain(ctrlPr, fP, "#0000ff", 3);
drawMain(mean850, fT, "#ff0000", 4); drawMain(mean500, fT, "#ff0000", 4); drawMain(meanPr, fP, "#ff0000", 4);

svg.append("text").attr("x",59).attr("y",166).text("Temp. 850hPa");
svg.append("text").attr("x",59).attr("y",353).text("Temp. 500hPa");
svg.append("text").attr("x",59).attr("y",527).text("Précipitations");

// x labels
days.forEach(function(d,i){
  var xx = x(12+24*i)+11;
  svg.append("text").attr("transform","translate("+xx+",632) rotate(-90)").text(d);
});
svg.append("text").attr("x",20).attr("y",609).text("(°c)");
svg.append("text").attr("x",711).attr("y",609).text("(mm)");
svg.append("text").attr("x",9).attr("y",627).text("Alt. 530m");

// legend
svg.append("rect").attr("x",35).attr("y",634).attr("width",30).attr("height",4).attr("fill","#ff0000");
svg.append("text").attr("x",74).attr("y",640).text("Moyenne des scénarios");
svg.append("rect").attr("x",225).attr("y",634).attr("width",30).attr("height",4).attr("fill","#0000ff");
svg.append("text").attr("x",265).attr("y",640).style("font-size","10.5px").text("Run de contrôle");
svg.append("rect").attr("x",225).attr("y",645).attr("width",30).attr("height",4).attr("fill","#000");
svg.append("text").attr("x",265).attr("y",652).style("font-size","10.5px").text("Run GFS");
svg.append("text").attr("x",53).attr("y",664).style("fill","#5aa0e8").style("font-size","13px").text("❄");
svg.append("text").attr("x",74).attr("y",663).text("Risque neige");
svg.append("text").attr("x",340).attr("y",656).text("30 Perts.");
pertColors.forEach(function(c,i){
  var xx = 400 + i*11;
  svg.append("text").attr("x",xx+5).attr("y",647).attr("text-anchor","middle")
    .style("font-size","7px").style("font-weight","bold").text((i<9?"0":"")+(i+1));
  svg.append("rect").attr("x",xx).attr("y",650).attr("width",10).attr("height",6).attr("fill",c);
});

svg.append("rect").attr("x",20).attr("y",667).attr("width",420).attr("height",32)
  .attr("fill","none").attr("stroke","#000");
svg.append("text").attr("x",30).attr("y",682).style("font-weight","bold").text("Diagramme des ensembles GEFS sur 384h pour Bursa");
svg.append("text").attr("x",30).attr("y",695).style("font-size","10px").text("Températures 850hPa et 500hPa (°C) , précipitations (mm)");
svg.append("text").attr("x",450).attr("y",681).text("Ensemble GEFS du 12/05/2024 - 12Z");
svg.append("text").attr("x",450).attr("y",696).style("font-weight","bold").text("Copyright 2024 Meteociel.fr");
</script>
</body></html>
